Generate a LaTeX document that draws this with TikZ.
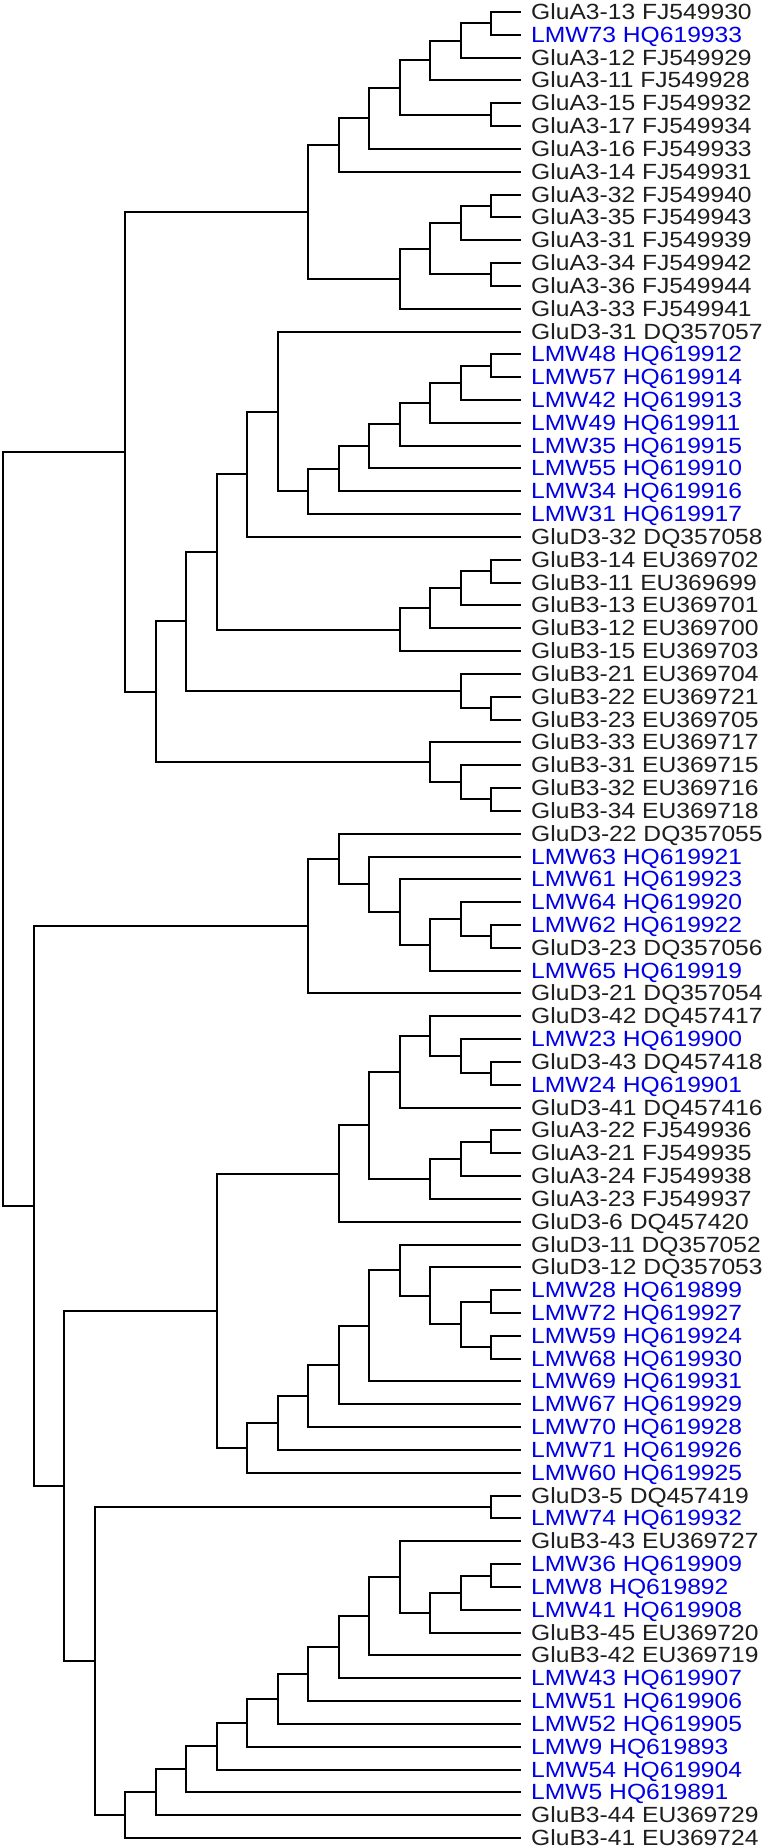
\documentclass[tikz,border=0pt]{standalone}
\usepackage{fontspec}
\usetikzlibrary{calc}
\newfontfamily\labfont[FakeStretch=1.12]{Liberation Sans}
\definecolor{labblue}{RGB}{0,0,230}
\definecolor{labblack}{RGB}{30,30,30}
\tikzset{
  branch/.style={draw=black,line width=2pt},
  lab/.style={anchor=west,inner xsep=10pt,inner ysep=0pt,text height=15pt,text depth=0pt,
    font=\labfont\fontsize{22}{22}\selectfont,text=labblack},
  labb/.style={lab,text=labblue}
}
\newcommand\lf[3]{\node[#2] (t#1) at (521pt,{1836pt-(#1-1)*22.825pt}) {#3};}
\newcommand\jn[4]{%
  \path let \p1=(#3), \p2=(#4) in coordinate (#1) at ({round(3+#2*30.5)*1pt},{0.5*\y1+0.5*\y2});
  \draw[branch] (#1) |- (#3);
  \draw[branch] (#1) |- (#4);
}
\begin{document}
\begin{tikzpicture}[x=1pt,y=1pt]
\useasboundingbox (0,0) rectangle (777,1848);
\lf{1}{lab}{GluA3-13 FJ549930}
\lf{2}{labb}{LMW73 HQ619933}
\lf{3}{lab}{GluA3-12 FJ549929}
\lf{4}{lab}{GluA3-11 FJ549928}
\lf{5}{lab}{GluA3-15 FJ549932}
\lf{6}{lab}{GluA3-17 FJ549934}
\lf{7}{lab}{GluA3-16 FJ549933}
\lf{8}{lab}{GluA3-14 FJ549931}
\lf{9}{lab}{GluA3-32 FJ549940}
\lf{10}{lab}{GluA3-35 FJ549943}
\lf{11}{lab}{GluA3-31 FJ549939}
\lf{12}{lab}{GluA3-34 FJ549942}
\lf{13}{lab}{GluA3-36 FJ549944}
\lf{14}{lab}{GluA3-33 FJ549941}
\lf{15}{lab}{GluD3-31 DQ357057}
\lf{16}{labb}{LMW48 HQ619912}
\lf{17}{labb}{LMW57 HQ619914}
\lf{18}{labb}{LMW42 HQ619913}
\lf{19}{labb}{LMW49 HQ619911}
\lf{20}{labb}{LMW35 HQ619915}
\lf{21}{labb}{LMW55 HQ619910}
\lf{22}{labb}{LMW34 HQ619916}
\lf{23}{labb}{LMW31 HQ619917}
\lf{24}{lab}{GluD3-32 DQ357058}
\lf{25}{lab}{GluB3-14 EU369702}
\lf{26}{lab}{GluB3-11 EU369699}
\lf{27}{lab}{GluB3-13 EU369701}
\lf{28}{lab}{GluB3-12 EU369700}
\lf{29}{lab}{GluB3-15 EU369703}
\lf{30}{lab}{GluB3-21 EU369704}
\lf{31}{lab}{GluB3-22 EU369721}
\lf{32}{lab}{GluB3-23 EU369705}
\lf{33}{lab}{GluB3-33 EU369717}
\lf{34}{lab}{GluB3-31 EU369715}
\lf{35}{lab}{GluB3-32 EU369716}
\lf{36}{lab}{GluB3-34 EU369718}
\lf{37}{lab}{GluD3-22 DQ357055}
\lf{38}{labb}{LMW63 HQ619921}
\lf{39}{labb}{LMW61 HQ619923}
\lf{40}{labb}{LMW64 HQ619920}
\lf{41}{labb}{LMW62 HQ619922}
\lf{42}{lab}{GluD3-23 DQ357056}
\lf{43}{labb}{LMW65 HQ619919}
\lf{44}{lab}{GluD3-21 DQ357054}
\lf{45}{lab}{GluD3-42 DQ457417}
\lf{46}{labb}{LMW23 HQ619900}
\lf{47}{lab}{GluD3-43 DQ457418}
\lf{48}{labb}{LMW24 HQ619901}
\lf{49}{lab}{GluD3-41 DQ457416}
\lf{50}{lab}{GluA3-22 FJ549936}
\lf{51}{lab}{GluA3-21 FJ549935}
\lf{52}{lab}{GluA3-24 FJ549938}
\lf{53}{lab}{GluA3-23 FJ549937}
\lf{54}{lab}{GluD3-6 DQ457420}
\lf{55}{lab}{GluD3-11 DQ357052}
\lf{56}{lab}{GluD3-12 DQ357053}
\lf{57}{labb}{LMW28 HQ619899}
\lf{58}{labb}{LMW72 HQ619927}
\lf{59}{labb}{LMW59 HQ619924}
\lf{60}{labb}{LMW68 HQ619930}
\lf{61}{labb}{LMW69 HQ619931}
\lf{62}{labb}{LMW67 HQ619929}
\lf{63}{labb}{LMW70 HQ619928}
\lf{64}{labb}{LMW71 HQ619926}
\lf{65}{labb}{LMW60 HQ619925}
\lf{66}{lab}{GluD3-5 DQ457419}
\lf{67}{labb}{LMW74 HQ619932}
\lf{68}{lab}{GluB3-43 EU369727}
\lf{69}{labb}{LMW36 HQ619909}
\lf{70}{labb}{LMW8 HQ619892}
\lf{71}{labb}{LMW41 HQ619908}
\lf{72}{lab}{GluB3-45 EU369720}
\lf{73}{lab}{GluB3-42 EU369719}
\lf{74}{labb}{LMW43 HQ619907}
\lf{75}{labb}{LMW51 HQ619906}
\lf{76}{labb}{LMW52 HQ619905}
\lf{77}{labb}{LMW9 HQ619893}
\lf{78}{labb}{LMW54 HQ619904}
\lf{79}{labb}{LMW5 HQ619891}
\lf{80}{lab}{GluB3-44 EU369729}
\lf{81}{lab}{GluB3-41 EU369724}
% GluA3-1x
\jn{a1}{16}{t1}{t2}
\jn{a2}{15}{a1}{t3}
\jn{a3}{14}{a2}{t4}
\jn{a4}{16}{t5}{t6}
\jn{a5}{13}{a3}{a4}
\jn{a6}{12}{a5}{t7}
\jn{a7}{11}{a6}{t8}
% GluA3-3x
\jn{b1}{16}{t9}{t10}
\jn{b2}{15}{b1}{t11}
\jn{b3}{16}{t12}{t13}
\jn{b4}{14}{b2}{b3}
\jn{b5}{13}{b4}{t14}
\jn{c1}{10}{a7}{b5}
% LMW4x
\jn{d1}{16}{t16}{t17}
\jn{d2}{15}{d1}{t18}
\jn{d3}{14}{d2}{t19}
\jn{d4}{13}{d3}{t20}
\jn{d5}{12}{d4}{t21}
\jn{d6}{11}{d5}{t22}
\jn{d7}{10}{d6}{t23}
\jn{d8}{9}{t15}{d7}
\jn{d9}{8}{d8}{t24}
% GluB3-1x
\jn{e1}{16}{t25}{t26}
\jn{e2}{15}{e1}{t27}
\jn{e3}{14}{e2}{t28}
\jn{e4}{13}{e3}{t29}
\jn{f1}{7}{d9}{e4}
% GluB3-2x
\jn{e5}{16}{t31}{t32}
\jn{e6}{15}{t30}{e5}
\jn{f2}{6}{f1}{e6}
% GluB3-3x
\jn{e7}{16}{t35}{t36}
\jn{e8}{15}{t34}{e7}
\jn{e9}{14}{t33}{e8}
\jn{f3}{5}{f2}{e9}
\jn{f4}{4}{c1}{f3}
% GluD3-2x
\jn{g1}{16}{t41}{t42}
\jn{g2}{15}{t40}{g1}
\jn{g3}{14}{g2}{t43}
\jn{g4}{13}{t39}{g3}
\jn{g5}{12}{t38}{g4}
\jn{g6}{11}{t37}{g5}
\jn{g7}{10}{g6}{t44}
% GluD3-4x
\jn{h1}{16}{t47}{t48}
\jn{h2}{15}{t46}{h1}
\jn{h3}{14}{t45}{h2}
\jn{h4}{13}{h3}{t49}
% GluA3-2x
\jn{h5}{16}{t50}{t51}
\jn{h6}{15}{h5}{t52}
\jn{h7}{14}{h6}{t53}
\jn{h8}{12}{h4}{h7}
\jn{h9}{11}{h8}{t54}
% GluD3-1x
\jn{i1}{16}{t57}{t58}
\jn{i2}{16}{t59}{t60}
\jn{i3}{15}{i1}{i2}
\jn{i4}{14}{t56}{i3}
\jn{i5}{13}{t55}{i4}
\jn{i6}{12}{i5}{t61}
\jn{i7}{11}{i6}{t62}
\jn{i8}{10}{i7}{t63}
\jn{i9}{9}{i8}{t64}
\jn{i10}{8}{i9}{t65}
\jn{j1}{7}{h9}{i10}
% GluB3-4x
\jn{k1}{16}{t69}{t70}
\jn{k2}{15}{k1}{t71}
\jn{k3}{14}{k2}{t72}
\jn{k4}{13}{t68}{k3}
\jn{k5}{12}{k4}{t73}
\jn{k6}{11}{k5}{t74}
\jn{k7}{10}{k6}{t75}
\jn{k8}{9}{k7}{t76}
\jn{k9}{8}{k8}{t77}
\jn{k10}{7}{k9}{t78}
\jn{k11}{6}{k10}{t79}
\jn{k12}{5}{k11}{t80}
\jn{k13}{4}{k12}{t81}
\jn{m1}{16}{t66}{t67}
\jn{m2}{3}{m1}{k13}
\jn{m3}{2}{j1}{m2}
\jn{m4}{1}{g7}{m3}
\jn{root}{0}{f4}{m4}
\end{tikzpicture}
\end{document}
